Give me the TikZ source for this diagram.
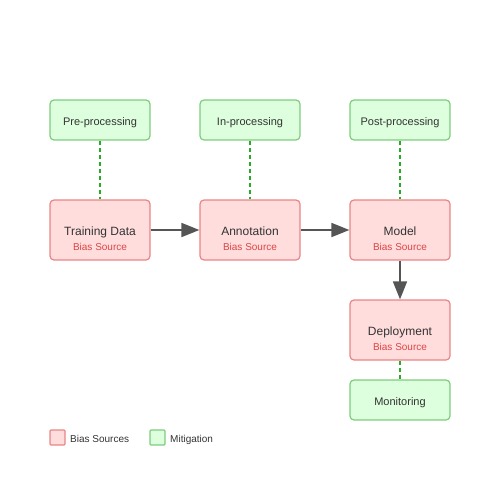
\documentclass[tikz,border=0pt]{standalone}
\usepackage{fontspec}
\setmainfont{Liberation Sans}
\usetikzlibrary{arrows.meta}
\definecolor{redfill}{HTML}{FFDDDD}
\definecolor{redline}{HTML}{EA8585}
\definecolor{redtext}{HTML}{DD4444}
\definecolor{greenfill}{HTML}{DDFFDD}
\definecolor{greenline}{HTML}{7FCC7F}
\definecolor{greendash}{HTML}{2AAA2A}
\definecolor{darktext}{HTML}{333333}
\definecolor{arrowcol}{HTML}{555555}
\tikzset{
  biasbox/.style={draw=redline, fill=redfill, line width=1.2pt, rounded corners=4pt, minimum width=100pt, minimum height=60pt, inner sep=0pt},
  mitbox/.style={draw=greenline, fill=greenfill, line width=1.2pt, rounded corners=4pt, minimum width=100pt, minimum height=40pt, inner sep=0pt},
  mainlab/.style={anchor=base, inner sep=0pt, font=\fontsize{12}{14}\selectfont, text=darktext},
  sublab/.style={anchor=base, inner sep=0pt, font=\fontsize{10}{12}\selectfont, text=redtext},
  mitlab/.style={anchor=base, inner sep=0pt, font=\fontsize{11}{13}\selectfont, text=darktext},
  flow/.style={draw=arrowcol, line width=1.6pt, -{Triangle[length=18pt,width=14pt]}},
  mitlink/.style={draw=greendash, line width=1.8pt, dash pattern=on 4pt off 3pt},
  legsq/.style={line width=1.2pt, minimum size=15pt, inner sep=0pt, rounded corners=1pt},
  legtext/.style={font=\fontsize{10}{12}\selectfont, text=darktext, anchor=base west, inner sep=0pt}
}
\begin{document}
\begin{tikzpicture}[x=1pt,y=-1pt]
\useasboundingbox (0,0) rectangle (500,500);
% mitigation boxes
\node[mitbox] (pre) at (100,120) {};
\node[mitbox] (inp) at (250,120) {};
\node[mitbox] (post) at (400,120) {};
\node[mitbox] (mon) at (400,400) {};
\node[mitlab] (pret) at (100,125.5) {Pre-processing};
\node[mitlab] (inpt) at (250,125.5) {In-processing};
\node[mitlab] (postt) at (400,125.5) {Post-processing};
\node[mitlab] (mont) at (400,405.5) {Monitoring};
% bias boxes
\node[biasbox] (train) at (100,230) {};
\node[biasbox] (annot) at (250,230) {};
\node[biasbox] (model) at (400,230) {};
\node[biasbox] (deploy) at (400,330) {};
\node[mainlab] (traint) at (100,235) {Training Data};
\node[sublab] (trains) at (100,250) {Bias Source};
\node[mainlab] (annott) at (250,235) {Annotation};
\node[sublab] (annots) at (250,250) {Bias Source};
\node[mainlab] (modelt) at (400,235) {Model};
\node[sublab] (models) at (400,250) {Bias Source};
\node[mainlab] (deployt) at (400,335) {Deployment};
\node[sublab] (deploys) at (400,350) {Bias Source};
% connectors
\draw[flow] (train) -- (annot);
\draw[flow] (annot) -- (model);
\draw[flow] (model) -- (deploy);
\draw[mitlink] (pre) -- (train);
\draw[mitlink] (inp) -- (annot);
\draw[mitlink] (post) -- (model);
\draw[mitlink] (deploy) -- (mon);
% legend
\node[legsq, draw=redline, fill=redfill] (lbias) at (57.5,437.5) {};
\node[legtext] (lbiast) at (70,442) {Bias Sources};
\node[legsq, draw=greenline, fill=greenfill] (lmit) at (157.5,437.5) {};
\node[legtext] (lmitt) at (170,442) {Mitigation};
\end{tikzpicture}
\end{document}
